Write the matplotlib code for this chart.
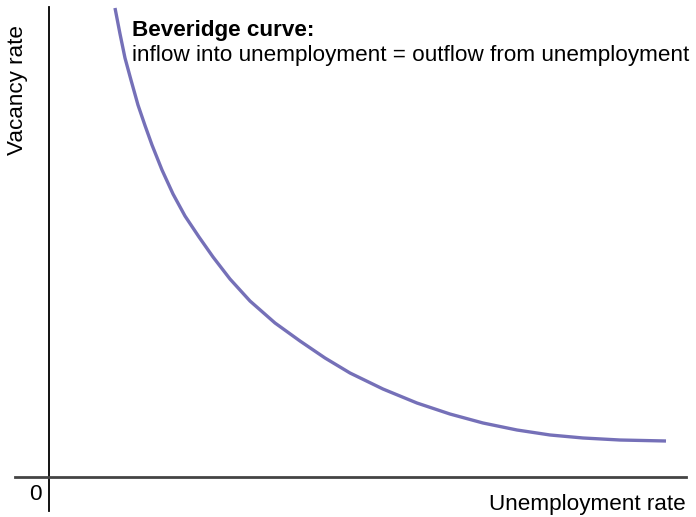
import matplotlib.pyplot as plt

plt.rcParams['font.family'] = ['Liberation Sans', 'DejaVu Sans']

# Beveridge curve (arbitrary units, axes 0-100)
unemployment = [10.36, 11.15, 11.93, 12.87, 13.97, 15.07, 16.17, 17.74, 19.47,
                21.35, 23.55, 25.75, 28.41, 31.55, 35.48, 39.40, 43.33, 47.25,
                52.43, 57.77, 62.95, 68.13, 73.47, 78.65, 83.83, 89.64, 96.86]
vacancy = [99.79, 94.26, 89.15, 84.47, 79.15, 74.79, 70.64, 65.32, 60.21,
           55.53, 51.06, 46.81, 42.13, 37.45, 32.77, 28.94, 25.32, 22.13,
           18.72, 15.74, 13.40, 11.49, 10.00, 8.94, 8.30, 7.87, 7.66]

CURVE_COLOUR = '#7570b8'
FS = 16.2

fig = plt.figure(figsize=(6.96, 5.17), dpi=100)
ax = fig.add_axes([49 / 696, 40 / 517, 637 / 696, 470 / 517])
ax.set_xlim(0, 100)
ax.set_ylim(0, 100)
ax.axis('off')

# axes lines, extended past the origin
ax.plot([0, 0], [-7.2, 100], color='black', lw=1.3, clip_on=False)
ax.plot([-5.3, 100], [0, 0], color='#444444', lw=2.0, clip_on=False)

ax.plot(unemployment, vacancy, color=CURVE_COLOUR, lw=2.4,
        solid_capstyle='butt', solid_joinstyle='round', clip_on=False)

ax.text(13.1, 93.8, 'Beveridge curve:', fontsize=FS, fontweight='bold',
        ha='left', va='baseline')
ax.text(13.1, 88.5, 'inflow into unemployment = outflow from unemployment',
        fontsize=FS, ha='left', va='baseline')

ax.text(-2.2, -3.8, '0', fontsize=FS, ha='center', va='center')
ax.text(100, -5.9, 'Unemployment rate', fontsize=FS, ha='right', va='center')
ax.text(-4.9, 82.3, 'Vacancy rate', fontsize=FS, rotation=90,
        ha='center', va='center')

fig.savefig('out.png', dpi=100)
